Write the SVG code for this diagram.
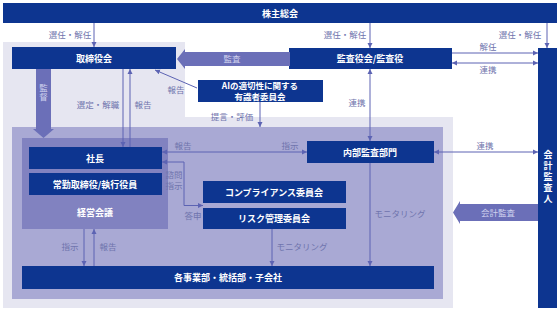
<svg xmlns="http://www.w3.org/2000/svg" width="560" height="310" viewBox="0 0 560 310">
<style>
.box{fill:#0d3590}
.bt{font-family:"Noto Sans CJK JP","Noto Sans",sans-serif;font-size:9px;font-weight:bold;fill:#fff;text-anchor:middle}
.lb{font-family:"Noto Sans CJK JP","Noto Sans",sans-serif;font-size:8.5px;fill:#6f74ad;text-anchor:middle}
.al{font-family:"Noto Sans CJK JP","Noto Sans",sans-serif;font-size:8.5px;fill:#d0d2ee;text-anchor:middle}
.ln{stroke:#5c63b3;stroke-width:1;fill:none}
.arr{fill:#6b6fb8}
</style>
<defs>
<marker id="ah" markerWidth="6" markerHeight="6" refX="5" refY="3" orient="auto-start-reverse" markerUnits="userSpaceOnUse">
<path d="M0,0.5 L5,3 L0,5.5 Z" fill="#5c63b3"/>
</marker>
</defs>
<g id="background">
<path d="M3,42 H185 V117 H453 V308 H3 Z" fill="#e6e6f1"/>
<rect x="12" y="127" width="431" height="172" fill="#a9a9d4"/>
</g>
<g id="keiei">
<rect x="22" y="138" width="146" height="91" fill="#8182c0"/>
<text class="bt" x="95" y="216">経営会議</text>
</g>
<g id="kabunushi"><rect class="box" x="3" y="3" width="554" height="20"/><text class="bt" x="280" y="16.5">株主総会</text></g>
<g id="torishimari"><rect class="box" x="12" y="47" width="164" height="22"/><text class="bt" x="94" y="61.5">取締役会</text></g>
<g id="kansayaku"><rect class="box" x="289" y="48" width="163" height="21"/><text class="bt" x="370" y="62">監査役会/監査役</text></g>
<g id="kaikei"><rect class="box" x="538" y="48" width="19" height="260"/>
<text class="bt" x="548" y="178" writing-mode="vertical-rl" letter-spacing="2">会計監査人</text></g>
<g id="ai"><rect class="box" x="198" y="80" width="125" height="22"/><text class="bt" x="260" y="88.5" style="font-size:8.5px">AIの適切性に関する</text><text class="bt" x="260" y="99.5" style="font-size:8.5px">有識者委員会</text></g>
<g id="shacho"><rect class="box" x="29" y="147" width="133" height="22"/><text class="bt" x="95" y="161.5">社長</text></g>
<g id="jokin"><rect class="box" x="29" y="173" width="133" height="22"/><text class="bt" x="95" y="187.5">常勤取締役/執行役員</text></g>
<g id="naibu"><rect class="box" x="307" y="141" width="127" height="22"/><text class="bt" x="370" y="155.5">内部監査部門</text></g>
<g id="compliance"><rect class="box" x="203" y="181" width="143" height="22"/><text class="bt" x="274" y="195.5">コンプライアンス委員会</text></g>
<g id="risk"><rect class="box" x="203" y="208" width="143" height="21"/><text class="bt" x="274" y="222">リスク管理委員会</text></g>
<g id="jigyobu"><rect class="box" x="22" y="266" width="412" height="23"/><text class="bt" x="228" y="281">各事業部・統括部・子会社</text></g>
<g id="connectors">
<path class="arr" d="M185,52 H290 V66 H185 V69 L177,59 L185,49 Z"/>
<text class="al" x="232" y="62">監査</text>
<path class="arr" d="M460,204 H538 V221 H460 V224 L453,212.5 L460,201 Z"/>
<text class="al" x="498" y="216">会計監査</text>
<path class="arr" d="M36,69 H51 V129 H54 L43.5,138 L33,129 H36 Z"/>
<text class="al" x="43.5" y="93" writing-mode="vertical-rl" letter-spacing="1">監督</text>
<line class="ln" x1="94" y1="23" x2="94" y2="47" marker-end="url(#ah)"/>
<line class="ln" x1="370" y1="23" x2="370" y2="48" marker-end="url(#ah)"/>
<line class="ln" x1="547" y1="23" x2="547" y2="48" marker-end="url(#ah)"/>
<line class="ln" x1="452" y1="53" x2="538" y2="53" marker-end="url(#ah)"/>
<line class="ln" x1="452" y1="63" x2="538" y2="63" marker-start="url(#ah)" marker-end="url(#ah)"/>
<line class="ln" x1="197" y1="88" x2="155" y2="70" marker-end="url(#ah)"/>
<line class="ln" x1="123" y1="69" x2="123" y2="147" marker-end="url(#ah)"/>
<line class="ln" x1="130" y1="147" x2="130" y2="69" marker-end="url(#ah)"/>
<line class="ln" x1="260" y1="102" x2="260" y2="127" marker-end="url(#ah)"/>
<line class="ln" x1="370" y1="69" x2="370" y2="141" marker-start="url(#ah)" marker-end="url(#ah)"/>
<line class="ln" x1="162" y1="152" x2="307" y2="152" marker-start="url(#ah)" marker-end="url(#ah)"/>
<line class="ln" x1="434" y1="152" x2="538" y2="152" marker-start="url(#ah)" marker-end="url(#ah)"/>
<path class="ln" d="M162,162 H184 V205.5 H203" marker-start="url(#ah)" marker-end="url(#ah)"/>
<line class="ln" x1="370" y1="163" x2="370" y2="266" marker-end="url(#ah)"/>
<line class="ln" x1="272" y1="229" x2="272" y2="266" marker-end="url(#ah)"/>
<line class="ln" x1="84" y1="229" x2="84" y2="266" marker-end="url(#ah)"/>
<line class="ln" x1="94" y1="266" x2="94" y2="229" marker-end="url(#ah)"/>
<text class="lb" x="70" y="38">選任・解任</text>
<text class="lb" x="345" y="38">選任・解任</text>
<text class="lb" x="520" y="38">選任・解任</text>
<text class="lb" x="488" y="50">解任</text>
<text class="lb" x="488" y="73">連携</text>
<text class="lb" x="176" y="93">報告</text>
<text class="lb" x="98" y="108">選定・解職</text>
<text class="lb" x="143" y="108">報告</text>
<text class="lb" x="232" y="120">提言・評価</text>
<text class="lb" x="357" y="106">連携</text>
<text class="lb" x="183" y="149">報告</text>
<text class="lb" x="290" y="149">指示</text>
<text class="lb" x="485" y="149">連携</text>
<text class="lb" x="174" y="178">諮問</text>
<text class="lb" x="174" y="189">指示</text>
<text class="lb" x="193" y="219">答申</text>
<text class="lb" x="400" y="217">モニタリング</text>
<text class="lb" x="302" y="250">モニタリング</text>
<text class="lb" x="70" y="250">指示</text>
<text class="lb" x="108" y="250">報告</text>
</g>
</svg>
